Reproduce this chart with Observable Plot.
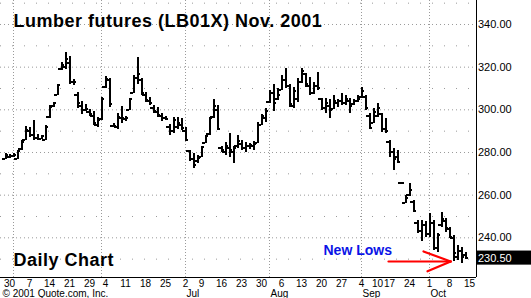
<!DOCTYPE html>
<html>
<head>
<meta charset="utf-8">
<script src="https://cdn.jsdelivr.net/npm/d3@7"></script>
<script src="https://cdn.jsdelivr.net/npm/@observablehq/plot@0.6"></script>
<style>
  html, body { margin: 0; padding: 0; background: #fff; }
  #chart svg { display: block; }
</style>
</head>
<body>
<div id="chart"></div>
<script>
// ---- data: trading-day index (0 = May 1, 2001), OHLC per day ----
const firstDay = -2; // Apr 27, 2001
const highs = [
  279.5, 279, 279.5, 281, 285.5, 292, 291.5, 295, 288.5, 288,
  292.5, 302, 303.5, 312, 322, 327, 325, 314, 308, 304,
  302.5, 300, 299, 296.5, 306, 315.5, 314.5, 293.5, 298.5, 301.5,
  297, 305.5, 316, 324.5, 314.5, 308, 306, 302, 301, 298.5,
  297, 293, 296.5, 296.5, 296, 291.5, 281, 279.5, 278.5, 283,
  288, 296.5, 305, 302, 283, 284.5, 289, 283, 288, 285.5,
  284.5, 284, 285, 294, 298, 300.5, 309, 312, 310, 316,
  319.5, 312, 310.5, 314.5, 319.5, 317, 315, 313, 317.5, 305.5,
  305.5, 305, 306.5, 305, 307.5, 306.5, 305.5, 305, 306.5, 310.5,
  306.5, 298.5, 300.5, 303, 298.5, 296, 285.5, 282, 281, 266,
  260, 265.5, 257.5, 248, 248, 247.5, 251.5, 248, 242, 252,
  249, 245, 241, 236.5, 235.5, 233
];
const lows = [
  276.5, 277, 277.5, 276.5, 281, 285.5, 287, 285.5, 285.5, 286,
  285.5, 296, 301, 306.5, 318.5, 319, 312, 311.5, 300.5, 298,
  299, 297, 292.5, 291.5, 295, 310, 301, 291.5, 291, 293.5,
  294.5, 299.5, 307.5, 312, 306.5, 303.5, 302, 298.5, 296.5, 294.5,
  295, 288, 289, 291, 290.5, 285.5, 276, 272.5, 275, 277.5,
  284, 288, 296, 290.5, 280, 278.5, 277.5, 275, 282, 281,
  280, 281.5, 281, 284, 292.5, 294, 303, 299, 304.5, 309,
  310, 301, 300.5, 303.5, 312.5, 310.5, 306.5, 307, 309, 299.5,
  298.5, 296, 300, 301, 302, 302, 298.5, 302, 303.5, 305.5,
  299.5, 291, 293.5, 296.5, 289.5, 289, 277.5, 271.5, 275, 265,
  256, 259.5, 252, 242, 238.5, 240, 240, 234, 233, 245,
  242.5, 240, 229, 229.5, 228, 230
];
const opens = [
  277, 278, 278.5, 277, 281.5, 286, 290, 288, 287, 286.5,
  286, 296.5, 302, 307, 319, 320, 322, 313, 307, 302,
  300, 299, 297, 293, 295.5, 310.5, 314, 292.5, 292, 296,
  295.5, 300, 308, 315, 314, 307, 304, 301, 299, 297,
  296, 292, 290, 292, 293, 290, 280.5, 277, 276, 278,
  284.5, 288.5, 296.5, 300, 282, 280, 282, 280, 283, 284,
  282, 283, 283, 284.5, 293, 296, 303.5, 308, 305, 309.5,
  314, 311, 302, 305, 313, 317, 311, 308, 311, 305,
  301, 302, 300.5, 303, 304, 303, 304, 302.5, 304, 306,
  306, 297, 294, 297, 298, 291, 285, 280, 278, 265.5,
  256.5, 260, 257, 247, 243, 246, 242, 247, 235, 246,
  248, 244, 240, 231, 234, 232
];
const closes = [
  279, 278.5, 279, 280.5, 285, 290.5, 288, 287, 286.5, 287.5,
  292, 301.5, 303, 311.5, 321, 324, 313, 313, 303, 300,
  300.5, 298, 294, 295, 305, 314.5, 302.5, 292.5, 296.5, 296,
  296, 305, 315, 317, 308, 304.5, 303, 299.5, 297.5, 296,
  295.5, 290, 295, 294, 291.5, 286, 277, 274, 277.5, 282.5,
  287.5, 296, 302, 291, 281, 283, 281, 282, 285.5, 282,
  283, 283.5, 284, 293, 297, 299.5, 308, 303, 307, 314,
  311, 302.5, 309, 313, 318, 312, 308, 311, 310, 301,
  303, 300, 304, 304, 303, 305, 302, 304, 305, 309,
  301, 291.5, 299, 301, 291, 290, 280, 277, 275.5, 265.5,
  258.5, 262.5, 252.5, 243, 246, 242, 247, 235, 241.5, 249,
  244.5, 240.5, 233, 234, 231, 230.5
];

// axis labels (trading-day index -> label)
const tickIdx    = [-1, 4, 9, 14, 19, 23, 28, 33, 38, 43, 47, 52, 57, 62, 67, 72, 77, 82, 87, 91, 94, 99, 104, 109, 114];
const tickLabels = ["30","7","14","21","29","4","11","18","25","2","9","16","23","30","6","13","20","27","4","10","17","24","1","8","15"];
const monthIdx    = [43, 64, 87, 104];
const monthLabels = ["Jul", "Aug", "Sep", "Oct"];
const monthStarts = [0, 22, 43, 64, 87, 104];
const priceTicks  = [240, 260, 280, 300, 320, 340];
const minorPrices = [230, 250, 270, 290, 310, 330, 350];
const lastPrice = 230.50;

// annotation
const titleText = "Lumber futures (LB01X) Nov. 2001";
const subText = "Daily Chart";
const noteText = "New Lows";
const noteAt = {i: 77.5, p: 231.9};
const arrowSegs = [
  {x1: 93.75, p1: 228.9, x2: 109.3, p2: 228.9},
  {x1: 102.5, p1: 233.6, x2: 109.3, p2: 228.9},
  {x1: 103.5, p1: 224.3, x2: 109.3, p2: 228.9}
];
const copyright = "\u00A9 2001 Quote.com, Inc.";

const xDomain = [-3.25, 115.75];
const yDomain = [221.4, 351.25];

const bars = highs.map((h, k) => ({
  i: firstDay + k, high: h, low: lows[k], open: opens[k], close: closes[k]
}));

const font = "'Liberation Sans', Arial, sans-serif";
const grid = "#9a9a9a";

const chart = Plot.plot({
  width: 531,
  height: 298,
  marginLeft: 0,
  marginRight: 55,
  marginTop: 0,
  marginBottom: 21,
  style: {fontFamily: font, background: "#fff", color: "#000", overflow: "visible"},
  x: {domain: xDomain, axis: null},
  y: {domain: yDomain, axis: null},
  marks: [
    // grid
    Plot.ruleY(minorPrices, {stroke: grid, strokeDasharray: "1,11"}),
    Plot.ruleY(priceTicks, {stroke: grid, strokeDasharray: "1,3"}),
    Plot.ruleX(monthStarts, {stroke: grid, strokeDasharray: "1,2"}),
    // frame edges
    Plot.ruleY([yDomain[0]], {stroke: "#000"}),
    Plot.ruleX([xDomain[1]], {stroke: "#000"}),
    // axes
    Plot.axisX(tickIdx, {
      tickSize: 0, tickPadding: 2.4, fontSize: 10, fill: "#000",
      tickFormat: d => tickLabels[tickIdx.indexOf(d)]
    }),
    Plot.text(monthIdx, {
      x: d => d, frameAnchor: "bottom", text: (d, k) => monthLabels[k],
      textAnchor: "start", lineAnchor: "bottom", dy: 19, dx: 1, fontSize: 10, fill: "#000"
    }),
    Plot.axisY(priceTicks, {
      anchor: "right", tickSize: 0, tickPadding: 1.5, fontSize: 11, fill: "#000",
      tickFormat: d => d.toFixed(2)
    }),
    // last price box
    Plot.rect([lastPrice], {
      x1: xDomain[1], x2: xDomain[1] + 14, y1: d => d - 3.3, y2: d => d + 3.3,
      fill: "#000", clip: false
    }),
    Plot.text([lastPrice], {
      x: xDomain[1], y: d => d, text: d => d.toFixed(2), textAnchor: "start",
      dx: 1.5, fontSize: 11, fill: "#fff"
    }),
    // OHLC bars
    Plot.ruleX(bars, {x: "i", y1: "low", y2: "high", stroke: "#000", strokeWidth: 2, shapeRendering: "crispEdges"}),
    Plot.ruleY(bars, {y: "open", x1: d => d.i - 0.75, x2: "i", stroke: "#000", strokeWidth: 2, shapeRendering: "crispEdges"}),
    Plot.ruleY(bars, {y: "close", x1: "i", x2: d => d.i + 0.75, stroke: "#000", strokeWidth: 2, shapeRendering: "crispEdges"}),
    // texts
    Plot.text([titleText], {
      frameAnchor: "top-left", text: d => d, textAnchor: "start", lineAnchor: "bottom",
      dx: 13, dy: 26, fontSize: 18, fontWeight: "bold", fill: "#000"
    }),
    Plot.text([subText], {
      frameAnchor: "bottom-left", text: d => d, textAnchor: "start", lineAnchor: "bottom",
      dx: 13, dy: -12, fontSize: 18, fontWeight: "bold", fill: "#000"
    }),
    Plot.text([copyright], {
      frameAnchor: "bottom-left", text: d => d, textAnchor: "start", lineAnchor: "bottom",
      dx: 2, dy: 19, fontSize: 10, fill: "#000"
    }),
    Plot.text([noteAt], {
      x: "i", y: "p", text: () => noteText, textAnchor: "start", lineAnchor: "bottom",
      fontSize: 14, fontWeight: "bold", fill: "#0a14e6"
    }),
    Plot.link(arrowSegs, {
      x1: "x1", x2: "x2", y1: "p1", y2: "p2", stroke: "#ff0000", strokeWidth: 2.2,
      strokeLinecap: "round"
    })
  ]
});

// letter spacing for bold texts
d3.select(chart).selectAll("text").filter(function() {
  const t = this.textContent;
  return t === titleText || t === subText;
}).attr("letter-spacing", "0.5px");

document.getElementById("chart").appendChild(chart);
</script>
</body>
</html>
